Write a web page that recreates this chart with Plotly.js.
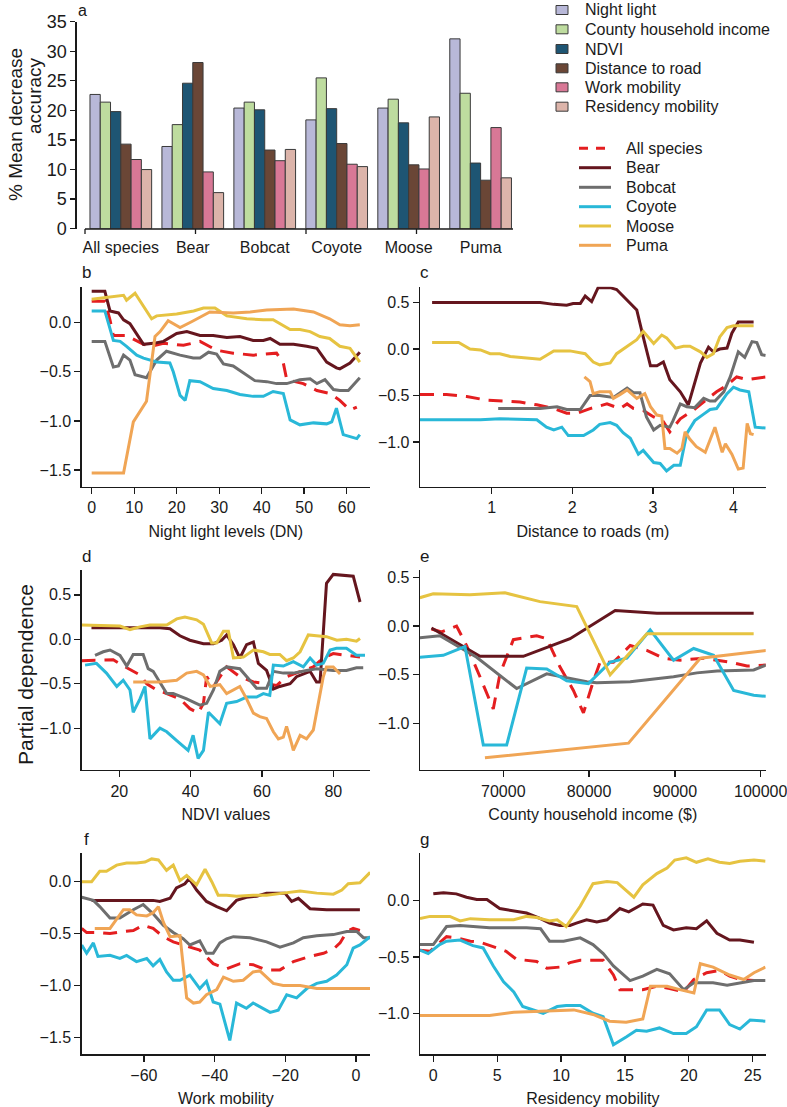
<!DOCTYPE html>
<html>
<head>
<meta charset="utf-8">
<script src="https://cdn.plot.ly/plotly-3.0.1.min.js"></script>
<style>
  html, body { margin: 0; padding: 0; background: #ffffff; }
  #chart { width: 787px; height: 1107px; }
</style>
</head>
<body>
<div id="chart"></div>
<script>
// ---- panel a: variable importance ----
const species = ['All species', 'Bear', 'Bobcat', 'Coyote', 'Moose', 'Puma'];
const nightLight = [22.7, 13.9, 20.4, 18.4, 20.4, 32.1];
const householdIncome = [21.4, 17.6, 21.4, 25.5, 21.9, 22.9];
const ndvi = [19.8, 24.6, 20.1, 20.3, 17.9, 11.1];
const distRoad = [14.3, 28.1, 13.3, 14.4, 10.8, 8.2];
const workMobility = [11.7, 9.6, 11.5, 10.9, 10.1, 17.1];
const residencyMobility = [10.0, 6.1, 13.4, 10.5, 18.9, 8.6];
const barNames = ['Night light', 'County household income', 'NDVI', 'Distance to road', 'Work mobility', 'Residency mobility'];
const lineNames = ['All species', 'Bear', 'Bobcat', 'Coyote', 'Moose', 'Puma'];

// ---- panel b: night light levels ----
const b_all = [[0,0.22],[3.1,0.22],[4.3,0.03],[5.1,-0.13],[8.2,-0.13],[10.6,-0.18],[12.2,-0.22],[14.1,-0.24],[16.9,-0.21],[21.6,-0.23],[25.5,-0.19],[29.4,-0.28],[33.3,-0.31],[38,-0.33],[43.5,-0.31],[45.1,-0.41],[45.9,-0.58],[49.8,-0.62],[53,-0.69],[56,-0.72],[58.4,-0.79],[60.8,-0.89],[62.4,-0.86]];
const b_bear = [[0,0.32],[3.1,0.32],[4.3,0.12],[6.3,0.10],[7.5,0.03],[9,-0.01],[12.2,-0.22],[14.5,-0.21],[16.9,-0.19],[20,-0.11],[22.4,-0.09],[25.5,-0.13],[28.6,-0.13],[31.8,-0.15],[34.9,-0.14],[38,-0.18],[40.4,-0.18],[42,-0.16],[44.3,-0.22],[47.5,-0.22],[50.6,-0.24],[53,-0.26],[55.3,-0.40],[57.6,-0.46],[58.4,-0.47],[60.8,-0.41],[63.1,-0.30]];
const b_bobcat = [[0,-0.19],[3.1,-0.19],[5.1,-0.45],[6.3,-0.44],[7.5,-0.33],[9,-0.38],[10.2,-0.53],[12.9,-0.56],[15.3,-0.38],[17.6,-0.29],[20.8,-0.33],[23.9,-0.36],[25.5,-0.36],[27.5,-0.30],[29.4,-0.32],[31,-0.42],[33.3,-0.44],[36.1,-0.52],[38.4,-0.59],[41.2,-0.60],[43.5,-0.62],[45.9,-0.62],[49,-0.58],[51.4,-0.57],[53,-0.62],[54.9,-0.58],[56.9,-0.68],[58.4,-0.69],[60.4,-0.69],[63.1,-0.56]];
const b_coyote = [[0,0.12],[3.1,0.12],[5.1,-0.18],[6.7,-0.19],[8.2,-0.24],[10.6,-0.33],[12.2,-0.36],[15.3,-0.40],[18.4,-0.41],[19.2,-0.50],[20.8,-0.74],[22,-0.79],[23.1,-0.59],[25.5,-0.60],[28.6,-0.67],[31.8,-0.69],[34.9,-0.73],[38,-0.75],[40.4,-0.75],[42.7,-0.70],[45.1,-0.72],[46.7,-0.99],[49,-1.04],[50.6,-1.03],[52.2,-1.02],[55.3,-1.03],[56.5,-1.01],[57.6,-0.87],[59.2,-1.14],[60.8,-1.16],[62.4,-1.18],[63.1,-1.14]];
const b_moose = [[0,0.24],[3.5,0.26],[7.5,0.28],[8.2,0.23],[10.2,0.30],[14.1,0.04],[15.3,0.07],[20,0.09],[24,0.12],[26.3,0.15],[29,0.15],[31.8,0.07],[36.5,0.04],[40.4,0.03],[42.7,0.03],[46.7,-0.07],[49,-0.07],[51.4,-0.09],[53.7,-0.14],[56,-0.16],[58.4,-0.24],[60.8,-0.26],[63.1,-0.40]];
const b_puma = [[0,-1.53],[7.5,-1.53],[9.8,-1.01],[12.9,-0.80],[14.9,-0.14],[16.1,-0.09],[18,0.02],[20.8,-0.05],[23.5,0.01],[27.8,0.11],[33.3,0.10],[37.3,0.11],[41.2,0.13],[47.5,0.14],[52.2,0.11],[56,0.04],[58.4,-0.02],[60.8,-0.03],[63.1,-0.02]];

// ---- panel c: distance to roads ----
const c_all = [[0.11,-0.49],[0.44,-0.49],[0.69,-0.51],[0.94,-0.55],[1.35,-0.57],[1.56,-0.60],[1.77,-0.64],[1.93,-0.69],[2.06,-0.69],[2.22,-0.64],[2.43,-0.59],[2.59,-0.64],[2.68,-0.59],[2.76,-0.64],[2.88,-0.66],[3.01,-0.73],[3.13,-0.78],[3.21,-0.89],[3.34,-0.75],[3.50,-0.66],[3.67,-0.54],[3.79,-0.46],[3.92,-0.39],[4.04,-0.30],[4.17,-0.33],[4.40,-0.30]];
const c_bear = [[0.26,0.50],[1.6,0.50],[1.77,0.48],[1.93,0.47],[2.01,0.49],[2.10,0.49],[2.16,0.57],[2.24,0.51],[2.32,0.66],[2.47,0.66],[2.55,0.64],[2.68,0.53],[2.80,0.42],[2.88,0.13],[2.97,-0.18],[3.05,-0.18],[3.13,-0.14],[3.21,-0.33],[3.34,-0.46],[3.44,-0.60],[3.59,-0.15],[3.69,0.02],[3.75,-0.03],[3.83,0.0],[3.92,0.01],[3.98,0.17],[4.06,0.29],[4.25,0.29]];
const c_bobcat = [[1.08,-0.64],[1.6,-0.64],[1.81,-0.62],[1.93,-0.65],[2.10,-0.65],[2.22,-0.50],[2.34,-0.50],[2.51,-0.52],[2.68,-0.42],[2.76,-0.47],[2.84,-0.47],[2.92,-0.73],[3.01,-0.87],[3.09,-0.82],[3.21,-0.84],[3.25,-0.77],[3.34,-0.59],[3.42,-0.62],[3.52,-0.63],[3.63,-0.53],[3.71,-0.56],[3.77,-0.56],[3.88,-0.46],[3.96,-0.30],[4.06,-0.03],[4.14,-0.09],[4.23,0.08],[4.29,0.07],[4.35,-0.06],[4.40,-0.07]];
const c_coyote = [[0.11,-0.76],[0.86,-0.76],[1.1,-0.75],[1.56,-0.76],[1.68,-0.84],[1.77,-0.87],[1.87,-0.84],[1.95,-0.93],[2.14,-0.93],[2.26,-0.87],[2.34,-0.81],[2.47,-0.79],[2.55,-0.82],[2.63,-0.90],[2.72,-0.96],[2.82,-1.13],[2.88,-1.09],[3.01,-1.22],[3.09,-1.23],[3.17,-1.31],[3.26,-1.25],[3.34,-1.25],[3.42,-0.91],[3.52,-0.77],[3.63,-0.70],[3.71,-0.65],[3.79,-0.64],[3.92,-0.48],[4.0,-0.41],[4.08,-0.44],[4.19,-0.46],[4.27,-0.84],[4.40,-0.85]];
const c_moose = [[0.26,0.07],[0.59,0.07],[0.73,0.0],[0.86,-0.01],[0.98,-0.05],[1.1,-0.05],[1.23,-0.08],[1.48,-0.10],[1.6,-0.11],[1.77,-0.02],[1.97,-0.02],[2.16,-0.05],[2.26,-0.14],[2.34,-0.17],[2.47,-0.15],[2.55,-0.05],[2.68,0.03],[2.80,0.10],[2.88,0.19],[3.01,0.06],[3.11,0.15],[3.17,0.12],[3.28,0.01],[3.38,0.03],[3.46,0.03],[3.59,-0.03],[3.67,-0.09],[3.75,-0.05],[3.83,0.13],[3.92,0.23],[4.0,0.25],[4.25,0.25]];
const c_puma = [[2.15,-0.30],[2.22,-0.35],[2.26,-0.48],[2.34,-0.46],[2.47,-0.46],[2.51,-0.53],[2.59,-0.49],[2.68,-0.44],[2.80,-0.53],[2.90,-0.48],[2.97,-0.62],[3.05,-0.71],[3.11,-0.72],[3.15,-1.07],[3.21,-1.07],[3.30,-1.12],[3.36,-1.07],[3.40,-0.89],[3.46,-0.97],[3.54,-1.05],[3.65,-1.11],[3.77,-0.84],[3.86,-1.11],[3.90,-1.02],[3.98,-1.13],[4.06,-1.29],[4.12,-1.28],[4.17,-0.80],[4.21,-0.91],[4.25,-0.92]];

// ---- panel d: NDVI ----
const d_all = [[9.4,-0.24],[14.6,-0.23],[18.3,-0.23],[22.1,-0.32],[23.9,-0.36],[25.8,-0.40],[27.7,-0.50],[30.5,-0.57],[33.3,-0.61],[37,-0.67],[39.8,-0.78],[42.1,-0.83],[43.6,-0.72],[44.5,-0.42],[46.4,-0.53],[50.1,-0.31],[53.8,-0.42],[57.6,-0.48],[61.3,-0.50],[64.1,-0.52],[66.9,-0.42],[70.7,-0.36],[74.4,-0.31],[77.2,-0.21],[80,-0.16],[83.7,-0.18],[87.5,-0.20]];
const d_bear = [[12.2,0.13],[31.4,0.13],[34.2,0.12],[37,0.04],[39.8,-0.01],[43.6,-0.05],[46.4,-0.05],[48.7,-0.01],[50.1,0.05],[52,-0.06],[53.8,-0.21],[55.7,-0.06],[57.6,-0.03],[59,-0.27],[61.3,-0.35],[63.2,-0.56],[65,-0.53],[67.9,-0.50],[69.7,-0.42],[73.5,-0.36],[75.3,-0.48],[76.3,-0.48],[78.1,0.63],[80,0.73],[85.6,0.71],[87.5,0.42]];
const d_bobcat = [[13.2,-0.18],[15.5,-0.14],[17.4,-0.12],[20.2,-0.18],[22.1,-0.30],[23.9,-0.17],[26.7,-0.17],[28.1,-0.33],[29.5,-0.36],[31.4,-0.48],[33.3,-0.61],[35.1,-0.61],[38.9,-0.67],[42.6,-0.74],[44.5,-0.72],[46.4,-0.57],[48.2,-0.36],[50.1,-0.31],[53.8,-0.33],[56.6,-0.46],[58.5,-0.55],[61.3,-0.55],[63.2,-0.36],[66,-0.38],[68.8,-0.38],[72.5,-0.35],[75.3,-0.33],[80,-0.35],[83.7,-0.35],[86.5,-0.32],[88.4,-0.32]];
const d_coyote = [[10.4,-0.29],[13.6,-0.27],[16.4,-0.38],[19.3,-0.53],[21.1,-0.46],[23,-0.57],[23.9,-0.82],[25.8,-0.67],[27.2,-0.53],[28.6,-1.12],[31.4,-1.00],[33.3,-1.04],[36.1,-1.14],[39.3,-1.25],[40.7,-1.08],[42.1,-1.34],[43.6,-1.25],[45,-0.82],[48.2,-0.95],[50.1,-0.72],[52.9,-0.70],[55.7,-0.65],[58.5,-0.65],[60.4,-0.61],[62.2,-0.63],[63.2,-0.29],[66,-0.30],[68.8,-0.25],[71.6,-0.31],[73.5,-0.21],[75.3,-0.29],[77.2,-0.27],[79.1,-0.12],[80.9,-0.10],[83.7,-0.10],[86.5,-0.18],[88.9,-0.18]];
const d_moose = [[9.4,0.16],[20.2,0.15],[23,0.11],[25.8,0.14],[28.6,0.16],[33.3,0.16],[36.1,0.23],[38.4,0.25],[41.7,0.22],[43.6,0.17],[45.9,-0.04],[47.3,-0.04],[49.2,0.09],[50.6,0.09],[52,-0.21],[54.8,-0.20],[57.6,-0.12],[60.4,-0.14],[62.2,-0.17],[65,-0.17],[66.9,-0.24],[68.8,-0.21],[70.7,-0.14],[73,0.05],[75.3,0.04],[78.1,0.03],[81,-0.01],[83.7,0.0],[86.5,-0.02],[87.5,0.01]];
const d_puma = [[23.9,-0.48],[27.7,-0.48],[31.4,-0.48],[36.1,-0.46],[38.9,-0.38],[41.7,-0.36],[43.6,-0.40],[45.5,-0.53],[48.2,-0.51],[50.1,-0.61],[52,-0.57],[53.8,-0.53],[55.7,-0.67],[57.6,-0.83],[59.4,-0.87],[61.3,-0.89],[63.2,-1.04],[64.6,-1.12],[66,-1.10],[66.9,-0.98],[68.3,-1.17],[68.8,-1.25],[70.7,-1.08],[72.5,-1.12],[74.4,-1.02],[75.8,-0.72],[77.2,-0.42],[78.1,-0.31],[80,-0.31],[81.9,-0.39]];

// ---- panel e: county household income ----
const e_all = [[61630,-0.03],[62800,-0.06],[64550,0.0],[65720,-0.20],[67280,-0.52],[68830,-0.85],[69610,-0.49],[71170,-0.14],[73890,-0.10],[75060,-0.13],[76610,-0.42],[78170,-0.66],[79340,-0.89],[80510,-0.56],[81280,-0.37],[82840,-0.37],[84790,-0.20],[86730,-0.25],[88680,-0.33],[90620,-0.35],[93350,-0.33],[96460,-0.37],[98400,-0.41],[100620,-0.40]];
const e_bear = [[61630,-0.02],[63390,-0.11],[67280,-0.31],[72330,-0.31],[77780,-0.13],[83040,0.16],[87900,0.13],[99180,0.13]];
const e_bobcat = [[60270,-0.12],[62610,-0.10],[66890,-0.32],[71560,-0.64],[75060,-0.49],[79730,-0.57],[80890,-0.58],[84790,-0.57],[89840,-0.52],[92570,-0.48],[94900,-0.46],[99180,-0.45],[100620,-0.40]];
const e_coyote = [[60270,-0.32],[63000,-0.30],[65530,-0.21],[67670,-1.22],[70390,-1.22],[72720,-0.43],[75060,-0.44],[77390,-0.56],[79920,-0.59],[82450,-0.37],[84400,-0.33],[87120,-0.04],[89840,-0.35],[92180,-0.23],[94510,-0.30],[96850,-0.66],[99180,-0.71],[100620,-0.72]];
const e_moose = [[60270,0.29],[61830,0.33],[66110,0.32],[70190,0.34],[74280,0.25],[78560,0.20],[82450,-0.50],[86730,-0.08],[99180,-0.08]];
const e_puma = [[67860,-1.35],[84590,-1.20],[92960,-0.33],[100620,-0.25]];

// ---- panel f: work mobility ----
const f_all = [[-77.6,-0.45],[-76.2,-0.49],[-72.5,-0.49],[-69.6,-0.50],[-65.8,-0.48],[-63,-0.47],[-60.2,-0.42],[-57.4,-0.45],[-54.5,-0.53],[-51.7,-0.58],[-48.9,-0.61],[-44.2,-0.66],[-40.4,-0.79],[-36.6,-0.84],[-32.8,-0.79],[-29.1,-0.80],[-25.3,-0.85],[-21.5,-0.85],[-17.7,-0.77],[-13,-0.72],[-9.2,-0.69],[-6.4,-0.65],[-4.5,-0.59],[-2.6,-0.48],[-0.8,-0.45],[1.1,-0.47]];
const f_bear = [[-74.8,-0.18],[-57.4,-0.18],[-55.5,-0.19],[-52.6,-0.16],[-50.8,-0.06],[-48.4,-0.02],[-47.2,0.03],[-45.1,-0.08],[-42.3,-0.19],[-39.4,-0.24],[-36.6,-0.28],[-33.8,-0.18],[-31,-0.15],[-28.1,-0.14],[-25.3,-0.11],[-20.1,-0.11],[-18.2,-0.19],[-16.3,-0.16],[-13,-0.26],[-8.3,-0.27],[1.1,-0.27]];
const f_bobcat = [[-77.6,-0.15],[-74.3,-0.18],[-72.5,-0.24],[-69.6,-0.35],[-66.8,-0.35],[-63,-0.27],[-60.2,-0.22],[-57.4,-0.31],[-54.5,-0.42],[-51.7,-0.49],[-48.9,-0.55],[-47,-0.61],[-44.2,-0.57],[-42.3,-0.69],[-40.4,-0.69],[-38.5,-0.59],[-36.6,-0.55],[-34.7,-0.53],[-30,-0.54],[-25.3,-0.58],[-21.5,-0.63],[-17.7,-0.59],[-14.9,-0.54],[-11.1,-0.52],[-6.4,-0.51],[-2.6,-0.48],[0.2,-0.48],[2.1,-0.54],[4.0,-0.54]];
const f_coyote = [[-77.6,-0.61],[-76.2,-0.69],[-74.3,-0.59],[-73,-0.72],[-69.6,-0.71],[-66.8,-0.74],[-64.9,-0.71],[-62.1,-0.77],[-59.2,-0.74],[-57.4,-0.81],[-55.5,-0.75],[-53.6,-0.87],[-51.7,-0.95],[-49.8,-0.95],[-47,-0.90],[-44.2,-1.03],[-42.3,-0.96],[-40.4,-1.16],[-38.5,-1.18],[-35.7,-1.53],[-33.8,-1.17],[-31,-1.22],[-29.1,-1.17],[-26.2,-1.22],[-24.3,-1.26],[-22,-1.24],[-19.6,-1.09],[-16.8,-1.12],[-13.9,-1.03],[-11.1,-0.98],[-8.3,-0.96],[-5.5,-0.90],[-2.6,-0.80],[-0.8,-0.64],[1.1,-0.61],[4.0,-0.53]];
const f_moose = [[-77.6,0.0],[-74.8,0.0],[-72.5,0.10],[-70.6,0.10],[-67.7,0.16],[-64.9,0.18],[-62.1,0.18],[-59.7,0.19],[-57.8,0.22],[-55.9,0.21],[-53.6,0.11],[-51.7,0.16],[-49.8,0.01],[-47.9,0.06],[-45.1,-0.03],[-42.7,0.12],[-40.8,0.0],[-39,-0.13],[-36.6,-0.13],[-33.8,-0.14],[-29.1,-0.13],[-25.3,-0.13],[-20.6,-0.11],[-15.8,-0.09],[-11.1,-0.11],[-6.4,-0.12],[-4.0,-0.08],[-2.2,-0.02],[1.1,-0.01],[4.0,0.09]];
const f_puma = [[-73.9,-0.45],[-69.6,-0.45],[-65.8,-0.27],[-64,-0.27],[-62.1,-0.32],[-59.2,-0.33],[-57.4,-0.30],[-55.9,-0.24],[-54.5,-0.39],[-52.6,-0.53],[-49.8,-0.52],[-47.9,-1.12],[-46.0,-1.17],[-44.2,-1.16],[-42.3,-1.09],[-39.4,-1.04],[-37.5,-0.92],[-34.7,-0.96],[-31.9,-0.95],[-29.1,-0.87],[-27.2,-0.86],[-25.3,-0.92],[-23.4,-0.98],[-20.6,-1.00],[-15.8,-1.00],[-11.1,-1.03],[4.0,-1.03]];

// ---- panel g: residency mobility ----
const g_all = [[-1.04,-0.44],[-0.26,-0.45],[1.04,-0.32],[1.8,-0.33],[2.9,-0.36],[3.7,-0.37],[5,-0.42],[5.7,-0.45],[6.5,-0.52],[7.3,-0.53],[8.1,-0.54],[8.9,-0.60],[9.9,-0.59],[10.7,-0.55],[11.5,-0.53],[12.5,-0.53],[13.3,-0.53],[14.1,-0.66],[14.6,-0.79],[15.4,-0.79],[16.4,-0.79],[17.5,-0.76],[18.5,-0.78],[19.6,-0.81],[20.4,-0.70],[21.4,-0.64],[22.4,-0.62],[23.2,-0.67],[24,-0.70],[25.1,-0.71],[26,-0.71]];
const g_bear = [[0,0.06],[0.8,0.07],[1.8,0.06],[2.6,0.03],[3.4,0.01],[4.2,0.01],[5.2,-0.07],[6.3,-0.09],[7.3,-0.11],[8.4,-0.16],[9.1,-0.20],[9.9,-0.22],[10.7,-0.22],[11.2,-0.20],[12,-0.17],[12.8,-0.19],[13.6,-0.17],[14.6,-0.07],[15.3,-0.10],[16.4,-0.03],[17.2,-0.04],[18,-0.22],[18.8,-0.26],[19.8,-0.24],[20.6,-0.25],[21.4,-0.18],[22.2,-0.29],[23.2,-0.35],[24,-0.35],[25.1,-0.37]];
const g_bobcat = [[-1.04,-0.39],[0,-0.39],[1.04,-0.23],[2.1,-0.22],[4.4,-0.24],[6.3,-0.24],[7.3,-0.24],[8.4,-0.25],[9.1,-0.36],[10.2,-0.36],[11.5,-0.33],[12.5,-0.39],[13.3,-0.47],[14.1,-0.58],[15.4,-0.71],[16.4,-0.67],[17.5,-0.61],[18.5,-0.65],[19.6,-0.79],[20.4,-0.73],[21.9,-0.73],[23,-0.75],[24,-0.73],[25.1,-0.71],[26,-0.71]];
const g_coyote = [[-1.04,-0.44],[-0.4,-0.47],[0.5,-0.39],[1.04,-0.36],[2.1,-0.35],[3.1,-0.40],[3.9,-0.42],[4.7,-0.58],[5.5,-0.72],[6.3,-0.81],[7,-0.94],[7.8,-0.97],[8.6,-1.0],[9.7,-0.94],[10.4,-0.93],[11.5,-0.93],[12.5,-1.0],[13.3,-1.03],[14.1,-1.28],[15.1,-1.21],[15.9,-1.15],[16.7,-1.16],[17.7,-1.13],[18.8,-1.18],[19.8,-1.18],[20.6,-1.12],[21.4,-0.97],[22.4,-0.97],[23.2,-1.10],[24,-1.14],[24.8,-1.06],[26,-1.07]];
const g_moose = [[-1.04,-0.16],[-0.26,-0.14],[1.3,-0.14],[2.1,-0.18],[2.9,-0.16],[4.4,-0.17],[6.3,-0.17],[7.3,-0.14],[8.1,-0.15],[9.1,-0.18],[9.7,-0.17],[10.4,-0.23],[11.5,-0.05],[12.5,0.15],[13.6,0.17],[14.4,0.16],[15.7,0.03],[16.4,0.14],[17.5,0.24],[18.3,0.29],[18.9,0.36],[19.8,0.38],[20.6,0.34],[21.5,0.37],[22.4,0.34],[23.2,0.33],[24,0.35],[25.1,0.36],[26,0.35]];
const g_puma = [[-1.04,-1.02],[4.4,-1.02],[6.3,-0.99],[8.9,-0.98],[11,-0.97],[12.5,-1.01],[13.8,-1.07],[15.1,-1.08],[16.4,-1.05],[17,-0.76],[18.3,-0.76],[19.3,-0.79],[20.4,-0.82],[20.9,-0.56],[21.9,-0.59],[23.2,-0.66],[24.3,-0.70],[25.1,-0.64],[26,-0.59]];

// styles
const W = 787, H = 1107;
const px = v => v / W;
const py = v => 1 - v / H;
const FONT = 'Liberation Sans, Arial, Helvetica, sans-serif';
const INK = '#1a1a1a';

const barColors = ['#b8b8d8', '#bedc9f', '#1e5573', '#6a4636', '#d87896', '#dcb4aa'];
const lineColors = ['#e41e20', '#65161e', '#6e6e6e', '#29b8d8', '#e6c341', '#f0a555'];

const barSeries = [nightLight, householdIncome, ndvi, distRoad, workMobility, residencyMobility];

// panel boxes in pixels: [left, right, top, bottom]
const panels = [
  { id: 2, box: [81.7, 370, 286.7, 486.7], xr: [-2.35, 65.5], yr: [-1.67, 0.367],
    xt: [0, 10, 20, 30, 40, 50, 60], yt: [0, -0.5, -1, -1.5], title: 'Night light levels (DN)',
    data: [b_all, b_bear, b_bobcat, b_coyote, b_moose, b_puma], letter: 'b' },
  { id: 3, box: [420, 765.7, 286.7, 486.7], xr: [0.11, 4.40], yr: [-1.48, 0.67],
    xt: [1, 2, 3, 4], yt: [0.5, 0, -0.5, -1], title: 'Distance to roads (m)',
    data: [c_all, c_bear, c_bobcat, c_coyote, c_moose, c_puma], letter: 'c' },
  { id: 4, box: [81.7, 370, 570, 770], xr: [9.46, 90.3], yr: [-1.47, 0.78],
    xt: [20, 40, 60, 80], yt: [0.5, 0, -0.5, -1], title: 'NDVI values',
    data: [d_all, d_bear, d_bobcat, d_coyote, d_moose, d_puma], letter: 'd' },
  { id: 5, box: [420, 765.7, 570, 770], xr: [60290, 100583], yr: [-1.475, 0.574],
    xt: [70000, 80000, 90000, 100000], yt: [0.5, 0, -0.5, -1], title: 'County household income ($)',
    data: [e_all, e_bear, e_bobcat, e_coyote, e_moose, e_puma], letter: 'e' },
  { id: 6, box: [81.7, 370, 853.3, 1054.3], xr: [-77.6, 3.96], yr: [-1.664, 0.274],
    xt: [-60, -40, -20, 0], yt: [0, -0.5, -1, -1.5], title: 'Work mobility',
    data: [f_all, f_bear, f_bobcat, f_coyote, f_moose, f_puma], letter: 'f' },
  { id: 7, box: [420, 765.7, 853.3, 1054.3], xr: [-1.04, 26.02], yr: [-1.364, 0.42],
    xt: [0, 5, 10, 15, 20, 25], yt: [0, -0.5, -1], title: 'Residency mobility',
    data: [g_all, g_bear, g_bobcat, g_coyote, g_moose, g_puma], letter: 'g' }
];

const traces = [];

// bars
barSeries.forEach((vals, i) => {
  traces.push({
    type: 'bar',
    x: species,
    y: vals,
    name: barNames[i],
    marker: { color: barColors[i], line: { color: '#3a3a3a', width: 1 } },
    showlegend: false,
    xaxis: 'x',
    yaxis: 'y'
  });
});

// partial dependence lines
panels.forEach(p => {
  p.data.forEach((series, k) => {
    traces.push({
      type: 'scatter',
      mode: 'lines',
      x: series.map(d => d[0]),
      y: series.map(d => d[1]),
      name: lineNames[k],
      line: { color: lineColors[k], width: 3, dash: k === 0 ? '14px,9px' : 'solid' },
      showlegend: false,
      xaxis: 'x' + p.id,
      yaxis: 'y' + p.id
    });
  });
});

const axisBase = {
  showline: true, linecolor: INK, linewidth: 1.3,
  ticks: 'outside', ticklen: 6, tickwidth: 1.3, tickcolor: INK,
  showgrid: false, zeroline: false, automargin: false,
  ticklabeloverflow: 'allow',
  tickfont: { size: 16, color: INK }
};

const layout = {
  width: W, height: H,
  margin: { t: 0, r: 0, b: 0, l: 0 },
  paper_bgcolor: '#ffffff',
  plot_bgcolor: 'rgba(0,0,0,0)',
  font: { family: FONT, color: INK, size: 16 },
  barmode: 'group',
  bargap: 1 / 7,
  bargroupgap: 0,
  xaxis: {
    domain: [px(76.7), px(513)], range: [-0.613, 5.45], anchor: 'y',
    type: 'category', showline: false, showgrid: false, zeroline: false,
    ticks: 'outside', ticklen: 4, tickcolor: 'rgba(0,0,0,0)', automargin: false,
    tickfont: { size: 16, color: INK }
  },
  yaxis: Object.assign({}, axisBase, {
    domain: [py(228.7), py(21.7)], range: [0, 35], anchor: 'x',
    tickvals: [0, 5, 10, 15, 20, 25, 30, 35], ticklen: 5,
    tickfont: { size: 18, color: INK }
  }),
  shapes: [],
  annotations: []
};

panels.forEach(p => {
  const [l, r, t, b] = p.box;
  layout['xaxis' + p.id] = Object.assign({}, axisBase, {
    domain: [px(l), px(r)], range: p.xr, anchor: 'y' + p.id,
    tickvals: p.xt, tickformat: 'd',
    title: { text: p.title, font: { size: 16, color: INK }, standoff: 10 }
  });
  layout['yaxis' + p.id] = Object.assign({}, axisBase, {
    domain: [py(b), py(t)], range: p.yr, anchor: 'x' + p.id,
    tickvals: p.yt, tickformat: '.1f'
  });
  layout.annotations.push({
    text: p.letter, xref: 'paper', yref: 'paper', x: px(l + 4.5), y: py(t - 14),
    xanchor: 'center', yanchor: 'middle', showarrow: false, font: { size: 17, color: INK }
  });
});

// panel a: bottom axis line with its ticks
layout.shapes.push({ type: 'line', xref: 'paper', yref: 'paper', x0: px(85), x1: px(513), y0: py(229), y1: py(229), line: { color: INK, width: 1.3 } });
[85, 195.5, 306, 416.5].forEach(xp => {
  layout.shapes.push({ type: 'line', xref: 'paper', yref: 'paper', x0: px(xp), x1: px(xp), y0: py(229), y1: py(234), line: { color: INK, width: 1.3 } });
});

// panel a letter and y title
layout.annotations.push(
  { text: 'a', xref: 'paper', yref: 'paper', x: px(82), y: py(0), xanchor: 'center', yanchor: 'top', showarrow: false, font: { size: 16, color: INK } },
  { text: '% Mean decrease', xref: 'paper', yref: 'paper', x: px(15), y: py(125), textangle: -90, xanchor: 'center', yanchor: 'middle', showarrow: false, font: { size: 19, color: INK } },
  { text: 'accuracy', xref: 'paper', yref: 'paper', x: px(34), y: py(96), textangle: -90, xanchor: 'center', yanchor: 'middle', showarrow: false, font: { size: 19, color: INK } },
  { text: 'Partial dependence', xref: 'paper', yref: 'paper', x: px(25), y: py(675), textangle: -90, xanchor: 'center', yanchor: 'middle', showarrow: false, font: { size: 21, color: INK } }
);

// legend for bars (top right)
const barRows = [10, 29.3, 49, 68.3, 87.3, 106.7];
barNames.forEach((name, i) => {
  const yc = barRows[i];
  layout.shapes.push({ type: 'rect', xref: 'paper', yref: 'paper', x0: px(556), x1: px(568), y0: py(yc + 4.5), y1: py(yc - 4.5), fillcolor: barColors[i], line: { color: '#3a3a3a', width: 1 } });
  layout.annotations.push({ text: name, xref: 'paper', yref: 'paper', x: px(583), y: py(yc), xanchor: 'left', yanchor: 'middle', showarrow: false, font: { size: 16, color: INK } });
});

// legend for lines
const lineRows = [148.3, 167.7, 187.3, 206.7, 226, 245.3];
lineNames.forEach((name, i) => {
  const yc = lineRows[i];
  layout.shapes.push({ type: 'line', xref: 'paper', yref: 'paper', x0: px(579), x1: px(611), y0: py(yc), y1: py(yc), line: { color: lineColors[i], width: 3, dash: i === 0 ? '9px,8px' : 'solid' } });
  layout.annotations.push({ text: name, xref: 'paper', yref: 'paper', x: px(624), y: py(yc), xanchor: 'left', yanchor: 'middle', showarrow: false, font: { size: 16, color: INK } });
});

Plotly.newPlot('chart', traces, layout, { displayModeBar: false, staticPlot: true });
</script>
</body>
</html>
